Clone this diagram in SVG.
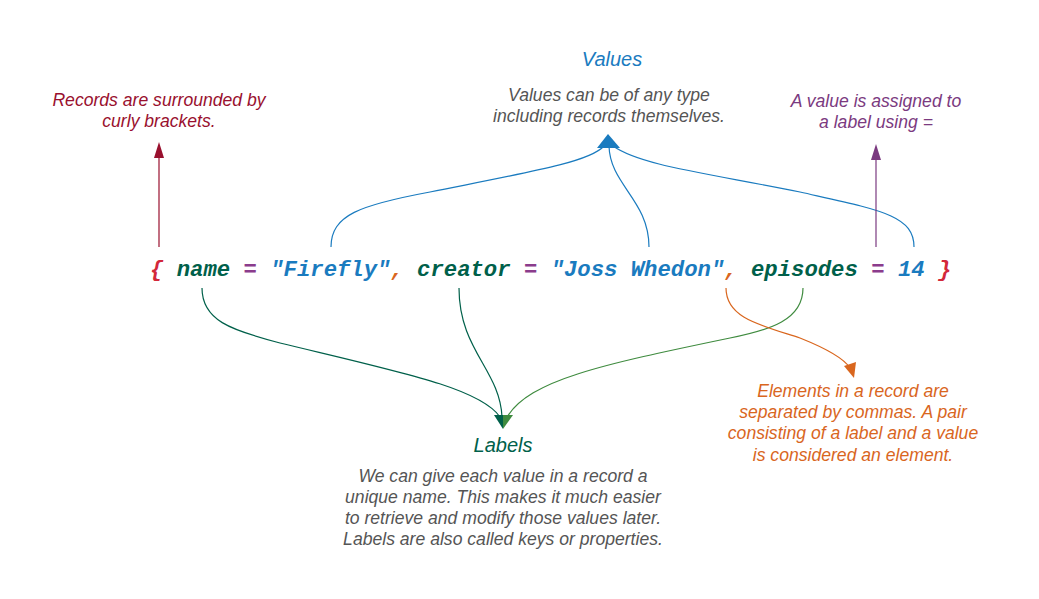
<svg xmlns="http://www.w3.org/2000/svg" width="1039" height="599" viewBox="0 0 1039 599">
<style>
.t{font-family:"Liberation Sans",Arial,sans-serif;font-size:17.6px;font-style:italic;text-anchor:middle}
.h{font-size:20px}
.code{font-family:"Liberation Mono","Courier New",monospace;font-size:22.25px;font-weight:bold;font-style:italic}
.br{fill:#d3283a}.lb{fill:#00604a}.eq{fill:#8b3c8c}.st{fill:#1a7bbf}.cm{fill:#d9661e}
.c{fill:none;stroke-width:1.2}
</style>
<rect width="1039" height="599" fill="#fff"/>
<g id="code">
<text class="code" x="150" y="276" xml:space="preserve"><tspan class="br">{</tspan> <tspan class="lb">name</tspan> <tspan class="eq">=</tspan> <tspan class="st">"Firefly"</tspan><tspan class="cm">,</tspan> <tspan class="lb">creator</tspan> <tspan class="eq">=</tspan> <tspan class="st">"Joss Whedon"</tspan><tspan class="cm">,</tspan> <tspan class="lb">episodes</tspan> <tspan class="eq">=</tspan> <tspan class="st">14</tspan> <tspan class="br">}</tspan></text>
</g>
<g id="connectors">
<path class="c" stroke="#99102e" d="M159,247 V156"/>
<polygon fill="#99102e" points="159,142 164,158 154,158"/>
<path class="c" stroke="#1a7bbf" d="M331,247 C331,215 360,205 430,192 C530,172 590,162 604,146"/>
<path class="c" stroke="#1a7bbf" d="M649,247 C649,200 610,185 609,146"/>
<path class="c" stroke="#1a7bbf" d="M914,247 C914,215 880,210 800,192 C700,172 640,165 613,146"/>
<polygon fill="#1a7bbf" points="608,134 620,148 597,148"/>
<path class="c" stroke="#7b3a80" d="M876,247 V158"/>
<polygon fill="#7b3a80" points="876,144 881,160 871,160"/>
<path class="c" stroke="#00604a" d="M202,288 C202,320 230,330 280,343 C400,372 480,388 500,417"/>
<path class="c" stroke="#00604a" d="M459,288 C459,350 500,370 502,417"/>
<path class="c" stroke="#3f8b3f" d="M803,288 C803,320 770,330 730,338 C600,365 530,380 507,417"/>
<polygon fill="#00604a" points="503,429 494,415 503,415"/>
<polygon fill="#3f8b3f" points="503,429 503,415 513,415"/>
<path class="c" stroke="#d9661e" d="M726,288 C726,318 760,325 800,338 C830,350 845,360 850,368"/>
<polygon fill="#d9661e" points="854,378 844,366 856,362"/>
</g>
<g id="records-note">
<text class="t" fill="#99102e" x="159" y="106">Records are surrounded by</text>
<text class="t" fill="#99102e" x="159" y="127">curly brackets.</text>
</g>
<g id="values-note">
<text class="t h" fill="#1a7bbf" x="612" y="66">Values</text>
<text class="t" fill="#555" x="609" y="101">Values can be of any type</text>
<text class="t" fill="#555" x="609" y="122">including records themselves.</text>
</g>
<g id="assign-note">
<text class="t" fill="#7b3a80" x="876" y="107">A value is assigned to</text>
<text class="t" fill="#7b3a80" x="876" y="128">a label using =</text>
</g>
<g id="labels-note">
<text class="t h" fill="#00604a" x="503" y="452">Labels</text>
<text class="t" fill="#555" x="503" y="482">We can give each value in a record a</text>
<text class="t" fill="#555" x="503" y="503">unique name. This makes it much easier</text>
<text class="t" fill="#555" x="503" y="524">to retrieve and modify those values later.</text>
<text class="t" fill="#555" x="503" y="545">Labels are also called keys or properties.</text>
</g>
<g id="elements-note">
<text class="t" fill="#d9661e" x="853" y="397">Elements in a record are</text>
<text class="t" fill="#d9661e" x="853" y="418">separated by commas. A pair</text>
<text class="t" fill="#d9661e" x="853" y="439">consisting of a label and a value</text>
<text class="t" fill="#d9661e" x="853" y="461">is considered an element.</text>
</g>
</svg>
